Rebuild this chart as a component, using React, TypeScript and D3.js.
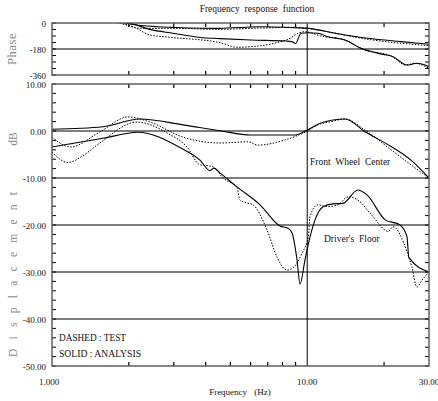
import React from 'react';
import * as d3 from 'd3';

// ---------- data ----------
const fwcAnalysisFreq = [1.0, 1.585, 2.21, 3.26, 4.55, 6.02, 8.96, 9.89, 11.32, 14.06, 16.84, 21.3, 25.5, 30];
const fwcAnalysisDb = [0.36, 0.9, 2.55, 1.3, 0.06, -0.85, -0.85, 0.06, 1.7, 2.55, -0.15, -3.3, -6.2, -10.0];

const fwcTestFreq = [1.0, 1.18, 1.54, 1.99, 2.42, 3.26, 4.55, 5.86, 6.41, 8.18, 9.89, 11.0, 12.4, 14.06, 16.84, 21.3, 25.5, 30];
const fwcTestDb = [-1.3, -3.4, -0.2, 3.0, 1.9, -1.3, -2.55, -2.3, -3.0, -1.9, -0.15, 1.3, 2.0, 2.55, 0.2, -4.0, -7.2, -10.0];

const dfAnalysisFreq = [1.0, 1.585, 2.17, 3.17, 3.8, 4.16, 4.31, 4.55, 5.29, 6.53, 7.82, 8.41, 8.72, 9.12, 9.37, 9.8, 10.25, 10.73, 11.53, 12.6, 13.8, 15.8, 17.15, 20.2, 23.1, 24.6, 25.0, 30];
const dfAnalysisDb = [-3.4, -1.55, -0.28, -3.5, -6.2, -8.45, -7.9, -8.9, -11.85, -15.7, -20.2, -20.7, -21.7, -27.4, -32.6, -27.4, -22.6, -18.9, -16.1, -15.5, -15.4, -12.55, -13.6, -18.9, -20.0, -22.5, -26.9, -30.0];

const dfTestFreq = [1.0, 1.155, 1.335, 1.54, 2.15, 2.82, 3.38, 3.8, 4.08, 4.27, 4.68, 5.31, 5.45, 5.81, 6.13, 6.96, 7.61, 8.33, 8.8, 9.54, 10.1, 10.25, 11.0, 11.95, 13.2, 14.45, 15.8, 17.9, 20.2, 20.7, 21.7, 24.6, 25.7, 26.9, 28.2, 30];
const dfTestDb = [-4.5, -6.7, -5.1, -2.55, 1.9, -0.4, -3.4, -7.2, -7.4, -7.6, -10.0, -12.1, -14.7, -15.3, -15.7, -21.1, -26.8, -29.6, -29.1, -26.0, -22.5, -18.2, -15.7, -16.1, -15.7, -14.0, -14.7, -17.9, -21.1, -21.4, -20.4, -25.7, -28.9, -33.2, -31.7, -30.0];

const fwcPhaseAnalysisFreq = [1.85, 2.02, 2.58, 2.98, 4.47, 6.59, 10.07, 12.85, 17.3, 23.3, 30];
const fwcPhaseAnalysisDeg = [8, -7, -26, -30, -37, -26, -37, -71, -106, -129, -147];

const fwcPhaseTestFreq = [1.75, 1.85, 2.21, 2.98, 4.47, 6.5, 9.2, 11.0, 17.3, 30];
const fwcPhaseTestDeg = [8, 0, -37, -37, -44, -35, -30, -48, -113, -157];

const dfPhaseAnalysisFreq = [1.95, 2.08, 2.42, 2.98, 3.8, 4.55, 6.02, 8.26, 8.7, 9.0, 9.45, 10.07, 11.0, 12.06, 14.06, 16.2, 19.8, 21.7, 24.6, 26.9, 30];
const dfPhaseAnalysisDeg = [8, -7, -44, -71, -100, -108, -118, -125, -129, -142, -71, -67, -71, -95, -118, -175, -217, -233, -291, -279, -302];

const dfPhaseTestFreq = [1.7, 1.81, 2.08, 2.42, 2.82, 4.55, 5.31, 6.0, 7.61, 8.56, 9.2, 9.8, 11.3, 14.06, 16.84, 21.3, 24.3, 26.3, 30];
const dfPhaseTestDeg = [8, 0, -26, -83, -97, -136, -168, -164, -136, -106, -71, -60, -90, -118, -187, -228, -291, -279, -314];

const dbTicks = [10, 0, -10, -20, -30, -40, -50];
const dbGrid = [0, -10, -20, -30, -40];
const phaseTicks = [0, -180, -360];
const xMinorTicks = [2, 3, 4, 5, 6, 7, 8, 9, 20];
const xLabels = [
  { v: 1, t: '1.000' },
  { v: 10, t: '10.00' },
  { v: 30, t: '30.00' },
];

// ---------- layout ----------
const W = 438, H = 401;
const L = 52, R = 429;
const pTop = 23, pBot = 75;
const mTop = 84, mBot = 366;

const x = d3.scaleLog().domain([1, 30]).range([L, R]);
const yDb = d3.scaleLinear().domain([-50, 10]).range([mBot, mTop]);
const yPh = d3.scaleLinear().domain([-360, 0]).range([pBot, pTop]);

const serifStyle = { fontFamily: "'Liberation Serif', 'Times New Roman', Times, 'DejaVu Serif', serif" };
const frame = '#555';

function mkLine(fs: number[], vs: number[], y: d3.ScaleLinear<number, number>) {
  const pts = fs.map((f, i) => [f, vs[i]] as [number, number]);
  return d3.line<[number, number]>().x(d => x(d[0])).y(d => y(d[1])).curve(d3.curveMonotoneX)(pts) || '';
}

export default function App() {
  const dbMinor = d3.range(-50, 10.01, 2);
  const phMinor = d3.range(-360, 0.01, 45);
  const tl = 4;
  return (
    <svg width={W} height={H} style={{ position: 'absolute', left: 0, top: 0, background: '#fff' }}>
      <defs>
        <clipPath id="clipP"><rect x={L} y={pTop} width={R - L} height={pBot - pTop} /></clipPath>
        <clipPath id="clipM"><rect x={L} y={mTop} width={R - L} height={mBot - mTop} /></clipPath>
      </defs>
      <rect width={W} height={H} fill="#fff" />
      <g style={serifStyle}>
        {/* title */}
        <text x={257} y={12} textAnchor="middle" fontSize={9.5} wordSpacing={2.5} fill="#111">Frequency response function</text>

        {/* ---------- phase panel ---------- */}
        <line x1={L} x2={R} y1={yPh(-180)} y2={yPh(-180)} stroke={frame} strokeWidth={1.4} />
        <line x1={x(10)} x2={x(10)} y1={pTop} y2={pBot} stroke="#000" strokeWidth={1} />
        {phMinor.map(v => (
          <g key={'pm' + v}>
            <line x1={L} x2={L + tl} y1={yPh(v)} y2={yPh(v)} stroke="#000" strokeWidth={1} />
            <line x1={R} x2={R - tl} y1={yPh(v)} y2={yPh(v)} stroke="#000" strokeWidth={1} />
          </g>
        ))}
        {xMinorTicks.map(v => (
          <g key={'px' + v}>
            <line x1={x(v)} x2={x(v)} y1={pTop} y2={pTop + tl} stroke="#000" strokeWidth={1.2} />
            <line x1={x(v)} x2={x(v)} y1={pBot} y2={pBot - tl} stroke="#000" strokeWidth={1.2} />
          </g>
        ))}
        {phaseTicks.map(v => (
          <text key={'pl' + v} x={46} y={yPh(v) + 3.5} textAnchor="end" fontSize={9} fill="#111">{v}</text>
        ))}
        <g clipPath="url(#clipP)" fill="none" stroke="#000">
          <path d={mkLine(fwcPhaseAnalysisFreq, fwcPhaseAnalysisDeg, yPh)} strokeWidth={1.1} />
          <path d={mkLine(fwcPhaseTestFreq, fwcPhaseTestDeg, yPh)} strokeWidth={1} strokeDasharray="1.5,1.5" />
          <path d={mkLine(dfPhaseAnalysisFreq, dfPhaseAnalysisDeg, yPh)} strokeWidth={1.1} />
          <path d={mkLine(dfPhaseTestFreq, dfPhaseTestDeg, yPh)} strokeWidth={1} strokeDasharray="1.5,1.5" />
        </g>
        <rect x={L} y={pTop} width={R - L} height={pBot - pTop} fill="none" stroke={frame} strokeWidth={1.4} />
        <text transform={`translate(16,${(pTop + pBot) / 2}) rotate(-90)`} textAnchor="middle" fontSize={12.5} letterSpacing={0.6} fill="#888">Phase</text>

        {/* ---------- main panel ---------- */}
        {dbGrid.map(v => (
          <line key={'g' + v} x1={L} x2={R} y1={yDb(v)} y2={yDb(v)} stroke={frame} strokeWidth={1.4} />
        ))}
        <line x1={x(10)} x2={x(10)} y1={mTop} y2={mBot} stroke="#000" strokeWidth={1} />
        {dbMinor.map(v => (
          <g key={'dm' + v}>
            <line x1={L} x2={L + tl} y1={yDb(v)} y2={yDb(v)} stroke="#000" strokeWidth={1} />
            <line x1={R} x2={R - tl} y1={yDb(v)} y2={yDb(v)} stroke="#000" strokeWidth={1} />
          </g>
        ))}
        {xMinorTicks.map(v => (
          <g key={'mx' + v}>
            <line x1={x(v)} x2={x(v)} y1={mTop} y2={mTop + tl} stroke="#000" strokeWidth={1.2} />
            <line x1={x(v)} x2={x(v)} y1={mBot} y2={mBot - tl} stroke="#000" strokeWidth={1.2} />
          </g>
        ))}
        {dbTicks.map(v => (
          <text key={'dl' + v} x={46} y={yDb(v) + 3.5} textAnchor="end" fontSize={9} fill="#111">{v.toFixed(2)}</text>
        ))}
        <g clipPath="url(#clipM)" fill="none" stroke="#000">
          <path d={mkLine(fwcAnalysisFreq, fwcAnalysisDb, yDb)} strokeWidth={1.1} />
          <path d={mkLine(fwcTestFreq, fwcTestDb, yDb)} strokeWidth={1} strokeDasharray="1.5,1.5" />
          <path d={mkLine(dfAnalysisFreq, dfAnalysisDb, yDb)} strokeWidth={1.1} />
          <path d={mkLine(dfTestFreq, dfTestDb, yDb)} strokeWidth={1} strokeDasharray="1.5,1.5" />
        </g>
        <rect x={L} y={mTop} width={R - L} height={mBot - mTop} fill="none" stroke={frame} strokeWidth={1.4} />

        <text x={310} y={165} fontSize={9.5} wordSpacing={2.5} fill="#111">Front Wheel Center</text>
        <text x={324} y={242} fontSize={9.5} wordSpacing={2.5} fill="#111">Driver's Floor</text>

        <text x={59} y={341} fontSize={10.5} textLength={67} lengthAdjust="spacingAndGlyphs" fill="#111">DASHED : TEST</text>
        <text x={59} y={357} fontSize={10.5} textLength={82} lengthAdjust="spacingAndGlyphs" fill="#111">SOLID : ANALYSIS</text>

        <text transform={`translate(17,357) rotate(-90)`} textAnchor="start" fontSize={11.5} textLength={165} lengthAdjust="spacing" fill="#888">Displacement</text>
        <text transform={`translate(17,139) rotate(-90)`} textAnchor="middle" fontSize={11.5} fill="#888">dB</text>

        {/* x axis labels */}
        {xLabels.map(d => (
          <text key={'xl' + d.t} x={x(d.v) - (d.v === 1 ? 3 : 0)} y={385} textAnchor="middle" fontSize={9} fill="#111">{d.t}</text>
        ))}
        <text x={240} y={395} textAnchor="middle" fontSize={9} wordSpacing={5} fill="#111">Frequency (Hz)</text>
      </g>
    </svg>
  );
}
